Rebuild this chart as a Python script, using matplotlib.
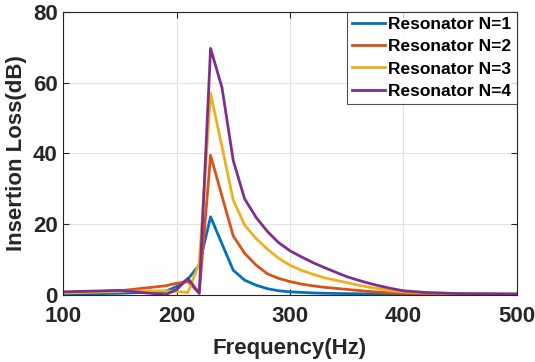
import matplotlib.pyplot as plt
import numpy as np

plt.rcParams['font.family'] = ['Liberation Sans', 'DejaVu Sans']
plt.rcParams['font.weight'] = 'bold'

# frequency samples (Hz)
freq = [100, 150, 190, 200, 210, 220, 230, 240, 250, 260, 270, 280, 290, 300,
        310, 320, 330, 340, 350, 360, 370, 380, 390, 400, 420, 450, 500]

# insertion loss (dB)
il_n1 = [0.2, 0.5, 1.0, 2.4, 4.5, 8.5, 22.1, 14.5, 7.0, 4.2, 2.8, 1.8, 1.2, 0.9,
         0.75, 0.6, 0.5, 0.45, 0.4, 0.35, 0.3, 0.25, 0.22, 0.2, 0.15, 0.1, 0.1]
il_n2 = [0.7, 1.2, 2.6, 3.3, 3.8, 0.5, 39.5, 28.0, 16.7, 11.8, 8.5, 6.0, 4.7, 3.8,
         3.1, 2.6, 2.2, 1.9, 1.6, 1.3, 1.0, 0.8, 0.6, 0.5, 0.35, 0.25, 0.2]
il_n3 = [0.6, 1.0, 1.2, 1.0, 0.7, 9.0, 57.0, 42.0, 26.8, 19.8, 16.0, 13.0, 10.4, 8.4,
         7.0, 5.9, 4.9, 4.2, 3.5, 2.8, 2.2, 1.7, 1.2, 0.9, 0.6, 0.4, 0.3]
il_n4 = [0.9, 1.3, 0.1, 1.5, 4.7, 0.5, 69.7, 58.7, 38.0, 27.2, 22.0, 18.0, 14.8, 12.5,
         10.8, 9.2, 7.8, 6.5, 5.2, 4.2, 3.3, 2.5, 1.8, 1.2, 0.7, 0.4, 0.3]

labels = ['Resonator N=1', 'Resonator N=2', 'Resonator N=3', 'Resonator N=4']
colors = ['#0072BD', '#D95319', '#EDB120', '#7E2F8E']

fig = plt.figure(figsize=(5.35, 3.62), dpi=100)
ax = fig.add_axes([0.118, 0.185, 0.848, 0.782])

for y, lab, c in zip([il_n1, il_n2, il_n3, il_n4], labels, colors):
    ax.plot(freq, y, color=c, linewidth=2.0, label=lab)

ax.set_xlim(100, 500)
ax.set_ylim(0, 80)
ax.set_xticks([100, 200, 300, 400, 500])
ax.set_yticks([0, 20, 40, 60, 80])
ax.grid(True, color='#e3e3e3', linewidth=0.8)
ax.set_axisbelow(True)
ax.tick_params(direction='in', top=True, right=True, length=4, width=0.8,
               labelsize=16, colors='#262626')
ax.tick_params(axis='x', pad=8)
ax.tick_params(axis='y', pad=4)
for s in ax.spines.values():
    s.set_color('#262626')
    s.set_linewidth(0.8)

ax.set_xlabel('Frequency(Hz)', fontsize=16, fontweight='bold', color='#262626', labelpad=8)
ax.set_ylabel('Insertion Loss(dB)', fontsize=16, fontweight='bold', color='#262626', labelpad=4)

leg = ax.legend(loc='upper right', fontsize=12.5, frameon=True, fancybox=False,
                borderaxespad=0, handlelength=1.9, handletextpad=0.2,
                labelspacing=0.4, borderpad=0.3)
leg.get_frame().set_edgecolor('#262626')
leg.get_frame().set_linewidth(0.8)
for t in leg.get_texts():
    t.set_fontweight('bold')

fig.savefig('out.png', dpi=100)
